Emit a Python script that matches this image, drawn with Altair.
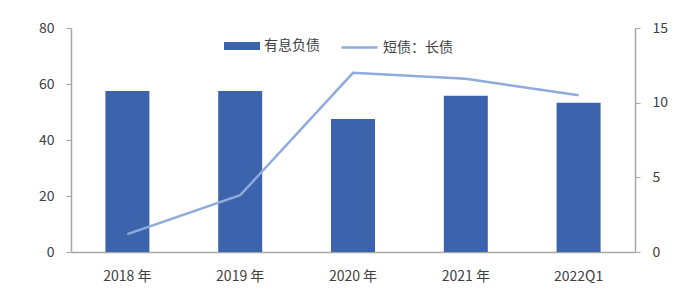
import altair as alt
import pandas as pd

categories = ["2018 年", "2019 年", "2020 年", "2021 年", "2022Q1"]
debt = [57.5, 57.5, 47.5, 55.8, 53.3]
ratio = [1.2, 3.8, 12.0, 11.6, 10.5]
bar_name = "有息负债"
line_name = "短债：长债"

df = pd.DataFrame({"cat": categories, "debt": debt, "ratio": ratio,
                   "s1": bar_name, "s2": line_name})

FONT = "Noto Sans CJK SC"
TXT = "#404040"
AX = "#A6A6A6"

x = alt.X("cat:N", sort=categories, title=None,
          scale=alt.Scale(paddingInner=0.61, paddingOuter=0.305),
          axis=alt.Axis(labelAngle=0, ticks=False, domainColor=AX, labelFontSize=14,
                        labelColor=TXT, labelFont=FONT, labelPadding=17, domainWidth=1.5))

bars = alt.Chart(df).mark_bar(color="#3B64AD").encode(
    x=x,
    y=alt.Y("debt:Q", title=None, scale=alt.Scale(domain=[0, 80]),
            axis=alt.Axis(values=[0, 20, 40, 60, 80], grid=False, tickSize=5, tickColor=AX,
                          domainColor=AX, labelFontSize=14, labelColor=TXT, labelFont=FONT,
                          labelPadding=12, domainWidth=1.5)),
    fill=alt.Fill("s1:N", scale=alt.Scale(domain=[bar_name], range=["#3B64AD"]),
                  legend=alt.Legend(title=None, orient="none", legendX=153, legendY=0,
                                    symbolType="M-1,-0.22H1V0.22H-1Z", symbolSize=1296,
                                    symbolStrokeWidth=0, labelFontSize=14, labelFont=FONT,
                                    labelColor=TXT, padding=0, labelOffset=4)),
)

line = alt.Chart(df).mark_line(strokeWidth=2.5).encode(
    x=x,
    y=alt.Y("ratio:Q", title=None, scale=alt.Scale(domain=[0, 15]),
            axis=alt.Axis(orient="right", values=[0, 5, 10, 15], grid=False, tickSize=5,
                          tickColor=AX, domainColor=AX, labelFontSize=14, labelColor=TXT,
                          labelFont=FONT, labelPadding=12, domainWidth=1.5)),
    stroke=alt.Stroke("s2:N", scale=alt.Scale(domain=[line_name], range=["#8FAADC"]),
                      legend=alt.Legend(title=None, orient="none", legendX=269, legendY=0,
                                        symbolType="stroke", symbolSize=1296,
                                        symbolStrokeWidth=2.5, labelFontSize=14,
                                        labelFont=FONT, labelColor=TXT, padding=0,
                                        labelOffset=4)),
)

chart = alt.layer(bars, line).resolve_scale(y="independent", fill="independent",
                                            stroke="independent").properties(
    width=564, height=224,
    autosize=alt.AutoSizeParams(type="none"),
    padding={"left": 71, "top": 28, "right": 58, "bottom": 44},
    background="white",
).configure_view(stroke=None)

chart.save("out.html", embed_options={"renderer": "svg", "actions": False})
